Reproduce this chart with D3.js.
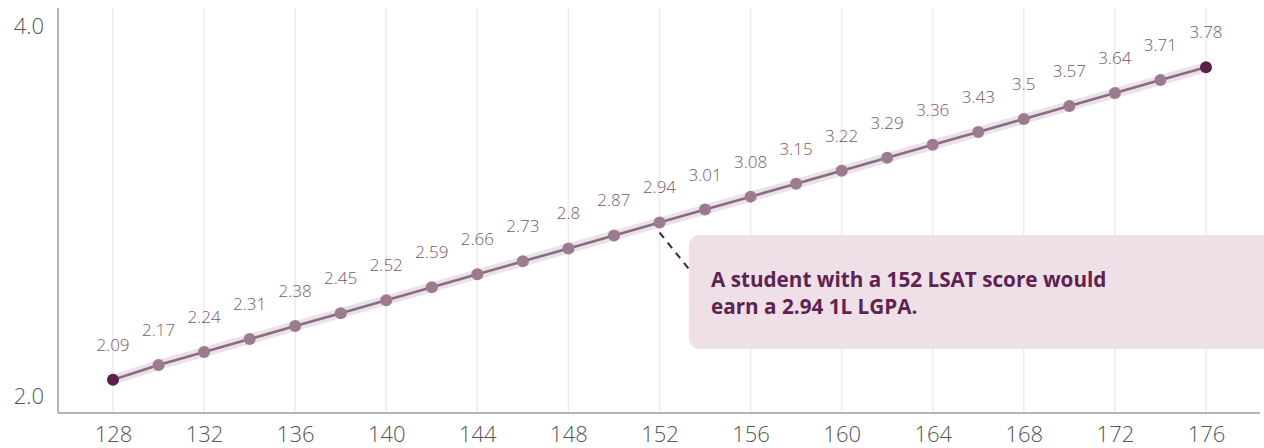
<!DOCTYPE html>
<html><head><meta charset="utf-8">
<script src="https://cdn.jsdelivr.net/npm/d3@7"></script>
<style>html,body{margin:0;padding:0;background:#fff;}svg{display:block;}</style>
</head><body>
<svg id="chart" width="1264" height="448"></svg>
<script>
const lsat = [128,130,132,134,136,138,140,142,144,146,148,150,152,154,156,158,160,162,164,166,168,170,172,174,176];
const gpa = [2.09,2.17,2.24,2.31,2.38,2.45,2.52,2.59,2.66,2.73,2.8,2.87,2.94,3.01,3.08,3.15,3.22,3.29,3.36,3.43,3.5,3.57,3.64,3.71,3.78];
const xTicks = [128,132,136,140,144,148,152,156,160,164,168,172,176];
const yTicks = [2.0,4.0];
const noteLines = ["A student with a 152 LSAT score would","earn a 2.94 1L LGPA."];
const noteX = 152;

const svg = d3.select("#chart");
const x = d3.scaleLinear().domain([128,176]).range([113,1206]);
const y = d3.scaleLinear().domain([1.91,4.1]).range([413,8]);
const axisLeft = 58, axisRight = 1260;
const font = "'Open Sans',sans-serif";

// grid
svg.append("g").selectAll("line").data(xTicks).join("line")
  .attr("x1",d=>x(d)).attr("x2",d=>x(d)).attr("y1",y(4.1)).attr("y2",y(1.91))
  .attr("stroke","#ececec").attr("stroke-width",1.6);

// x axis
const xa = svg.append("g").attr("transform",`translate(0,${y(1.91)})`)
  .call(d3.axisBottom(x).tickValues(xTicks).tickSize(0).tickPadding(14).tickFormat(d3.format("d")));
xa.select(".domain").remove();
xa.selectAll("text").attr("font-family",font).attr("font-weight",300).attr("font-size",22).attr("fill","#555").attr("dy","0.68em");
svg.append("line").attr("x1",axisLeft).attr("x2",axisRight).attr("y1",y(1.91)).attr("y2",y(1.91))
  .attr("stroke","#b5b5b5").attr("stroke-width",2);

// y axis
const ya = svg.append("g").attr("transform",`translate(${axisLeft},0)`)
  .call(d3.axisLeft(y).tickValues(yTicks).tickSize(0).tickPadding(14).tickFormat(d3.format(".1f")));
ya.select(".domain").remove();
ya.selectAll("text").attr("font-family",font).attr("font-weight",300).attr("font-size",22).attr("fill","#555");
svg.append("line").attr("x1",axisLeft).attr("x2",axisLeft).attr("y1",y(4.1)).attr("y2",y(1.91))
  .attr("stroke","#b5b5b5").attr("stroke-width",2);

const data = lsat.map((d,i)=>({x:d,y:gpa[i]}));
const line = d3.line().x(d=>x(d.x)).y(d=>y(d.y));

// band
svg.append("path").datum(data).attr("d",line).attr("fill","none")
  .attr("stroke","#e9e3e7").attr("stroke-width",10).attr("stroke-linecap","round");
// line
svg.append("path").datum(data).attr("d",line).attr("fill","none")
  .attr("stroke","#8d6a83").attr("stroke-width",2.6);

// points
svg.append("g").selectAll("circle").data(data).join("circle")
  .attr("cx",d=>x(d.x)).attr("cy",d=>y(d.y)).attr("r",6)
  .attr("fill",(d,i)=> (i===0||i===data.length-1) ? "#5b1f48" : "#9c7b91");

// labels
svg.append("g").selectAll("text").data(data).join("text")
  .attr("x",d=>x(d.x)).attr("y",d=>y(d.y)-35).attr("text-anchor","middle").attr("dy","0.35em")
  .attr("font-family",font).attr("font-weight",300).attr("font-size",17).attr("fill","#75586c")
  .text(d=>String(d.y));

// annotation
const pt = data.find(d=>d.x===noteX);
svg.append("line").attr("x1",x(pt.x)).attr("y1",y(pt.y)+10).attr("x2",x(pt.x)+29).attr("y2",y(pt.y)+46)
  .attr("stroke","#4e1a3f").attr("stroke-width",2).attr("stroke-dasharray","7,6");
svg.append("rect").attr("x",689).attr("y",235).attr("width",585).attr("height",114).attr("rx",10)
  .attr("fill","#efdfe7");
svg.append("g").selectAll("text").data(noteLines).join("text")
  .attr("x",711).attr("y",(d,i)=>287+i*27)
  .attr("font-family",font).attr("font-weight",700).attr("font-size",20.7).attr("fill","#5e2350")
  .text(d=>d);
</script>
</body></html>
